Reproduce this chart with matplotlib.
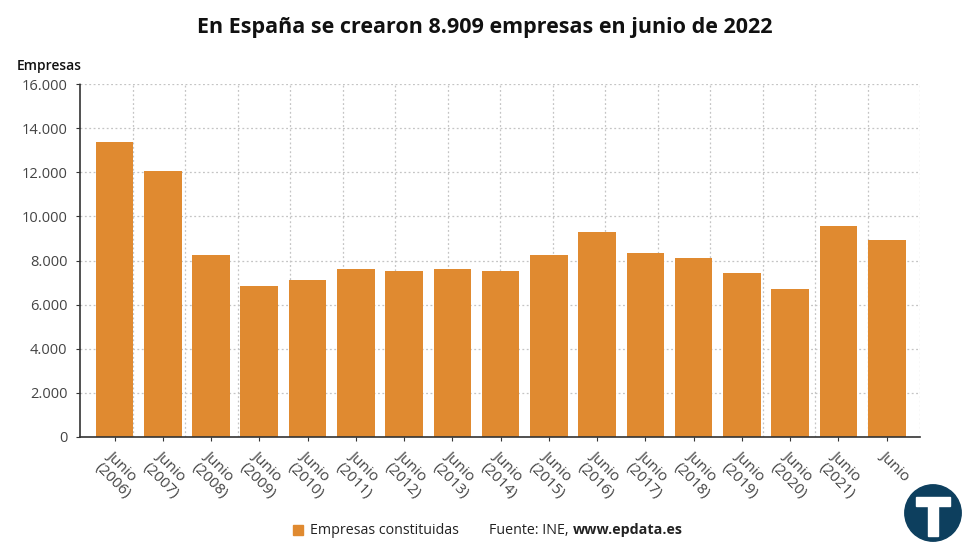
import matplotlib.pyplot as plt
from matplotlib.patches import Circle, Rectangle
from matplotlib.ticker import FuncFormatter

plt.rcParams["font.family"] = ["Open Sans", "DejaVu Sans"]

# data
years = ["2006", "2007", "2008", "2009", "2010", "2011", "2012", "2013", "2014",
         "2015", "2016", "2017", "2018", "2019", "2020", "2021", "2022"]
labels = ["Junio\n(%s)" % y for y in years[:-1]] + ["Junio"]
empresas = [13360, 12070, 8240, 6845, 7120, 7630, 7525, 7615, 7510,
            8250, 9280, 8325, 8100, 7420, 6725, 9550, 8909]
yticks = [0, 2000, 4000, 6000, 8000, 10000, 12000, 14000, 16000]

bar_color = "#e08a30"

fig = plt.figure(figsize=(9.7, 5.5), dpi=100)
ax = fig.add_axes([80 / 970, 113 / 550, 840 / 970, 353 / 550])

x = list(range(len(empresas)))
ax.bar(x, empresas, width=0.78, color=bar_color, zorder=3)

ax.set_xlim(-0.715, 16.69)
ax.set_ylim(0, 16000)
ax.set_yticks(yticks)
ax.yaxis.set_major_formatter(FuncFormatter(lambda v, p: f"{int(v):,}".replace(",", ".")))
ax.tick_params(axis="y", labelsize=10.5, labelcolor="#444444", length=3, color="#333333", pad=6)

ax.set_xticks(x)
ax.set_xticklabels(labels, rotation=-45, ha="left", va="top", rotation_mode="anchor",
                   fontsize=11, color="#444444")
ax.tick_params(axis="x", length=3, color="#333333", pad=5)

# grid: horizontal at y ticks, vertical evenly spaced across plot
ax.yaxis.grid(True, color="#c4c4c4", linestyle=(0, (1.5, 2)), linewidth=0.9, zorder=0)
for k in range(1, 17):
    ax.plot([k / 16, k / 16], [0, 1], transform=ax.transAxes, color="#c4c4c4",
            linestyle=(0, (1.5, 2)), linewidth=0.9, zorder=0)

for s in ["top", "right"]:
    ax.spines[s].set_visible(False)
for s in ["left", "bottom"]:
    ax.spines[s].set_color("#333333")
    ax.spines[s].set_linestyle((0, (1.5, 1)))
    ax.spines[s].set_linewidth(1.2)
    ax.spines[s].set_zorder(4)

fig.text(0.5, 1 - 28 / 550, "En España se crearon 8.909 empresas en junio de 2022",
         ha="center", va="center", fontsize=15.5, fontweight="bold", color="#111111")
fig.text(17 / 970, 1 - 66 / 550, "Empresas", ha="left", va="center",
         fontsize=10, fontweight="semibold", color="#111111")

# legend / source
fig.patches.append(Rectangle((293 / 970, 1 - 535 / 550), 10 / 970, 10 / 550,
                             transform=fig.transFigure, color=bar_color))
fig.text(310 / 970, 1 - 530 / 550, "Empresas constituidas", ha="left", va="center",
         fontsize=10.3, color="#222222")
fig.text(489 / 970, 1 - 530 / 550, "Fuente: INE,", ha="left", va="center",
         fontsize=10.3, color="#222222")
fig.text(573 / 970, 1 - 530 / 550, "www.epdata.es", ha="left", va="center",
         fontsize=10.3, fontweight="bold", color="#222222")

# logo
logo = fig.add_axes([903 / 970, 1 - 543 / 550, 60 / 970, 60 / 550])
logo.set_xlim(0, 1)
logo.set_ylim(0, 1)
logo.set_aspect("equal")
logo.axis("off")
logo.add_patch(Circle((0.5, 0.5), 0.47, color="#0d3f5e"))
logo.add_patch(Rectangle((0.22, 0.62), 0.56, 0.14, color="white"))
logo.add_patch(Rectangle((0.42, 0.12), 0.16, 0.55, color="white"))

fig.savefig("out.png", dpi=100, facecolor="white")
